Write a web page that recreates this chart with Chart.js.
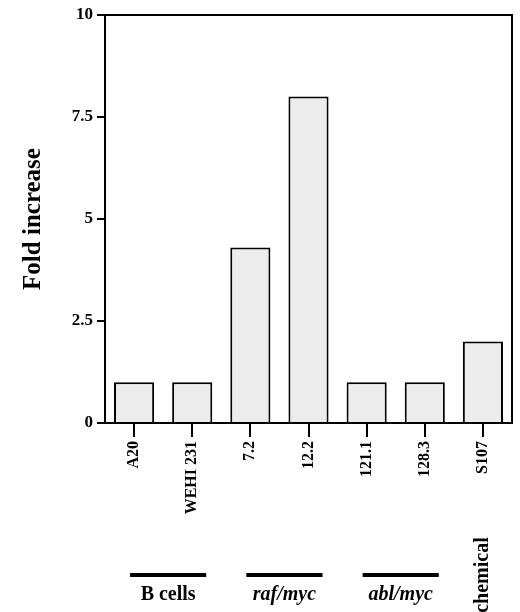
<!DOCTYPE html><html><head><script src="https://cdn.jsdelivr.net/npm/chart.js"></script>
<style>body{margin:0;background:#fff}#w{width:520px;height:612px}</style></head><body><div id="w"><canvas id="c"></canvas></div>
<script>
const categories=["A20","WEHI 231","7.2","12.2","121.1","128.3","S107"];
const values=[1,1,4.3,8,1,1,2];
const yTicks=[0,2.5,5,7.5,10];
const groups=[{label:"B cells",from:0,to:1,italic:false},{label:"raf/myc",from:2,to:3,italic:true},{label:"abl/myc",from:4,to:5,italic:true}];
const F="'Liberation Serif', serif";
const groupPlugin={id:'g',afterDraw(ch){
 const c=ch.ctx,x=ch.scales.x,b=ch.chartArea.bottom;
 c.save();c.fillStyle='#000';c.strokeStyle='#000';c.lineWidth=4;
 groups.forEach(g=>{const x1=x.getPixelForValue(g.from)-4,x2=x.getPixelForValue(g.to)+14;
  c.beginPath();c.moveTo(x1,b+152);c.lineTo(x2,b+152);c.stroke();
  c.font=(g.italic?'italic ':'')+'bold 20px '+F;c.textAlign='center';c.textBaseline='alphabetic';
  c.fillText(g.label,(x1+x2)/2,b+177);});
 c.translate(x.getPixelForValue(6),b+132);c.rotate(-Math.PI/2);c.font='bold 20px '+F;c.textAlign='center';c.textBaseline='middle';
 c.fillText('chemical',-20,0);c.restore();}};
new Chart(document.getElementById('c'),{type:'bar',
 data:{labels:categories,datasets:[{data:values,backgroundColor:'#ececec',borderColor:'#000',borderWidth:2,categoryPercentage:1,barPercentage:0.69}]},
 options:{responsive:true,maintainAspectRatio:false,animation:false,
 layout:{padding:{left:15,right:8,top:15,bottom:0}},
 plugins:{legend:{display:false},tooltip:{enabled:false}},
 scales:{
  x:{afterFit(s){s.height=189;},border:{color:'#000',width:2},grid:{display:true,drawOnChartArea:false,color:'#000',lineWidth:2,tickLength:14,offset:false},
   ticks:{color:'#000',font:{family:F,weight:'bold',size:16},maxRotation:90,minRotation:90,padding:4}},
  y:{min:0,max:10,afterFit(s){s.width=90;},afterBuildTicks(s){s.ticks=yTicks.map(v=>({value:v}));},
   border:{color:'#000',width:2},grid:{drawOnChartArea:false,color:'#000',lineWidth:2,tickLength:8},
   ticks:{color:'#000',font:{family:F,weight:'bold',size:17},padding:4},
   title:{display:true,text:'Fold increase',color:'#000',font:{family:F,weight:'bold',size:25},padding:{bottom:8}}}}},
 plugins:[groupPlugin,{id:'box',afterDraw(ch){const a=ch.chartArea,c=ch.ctx;c.save();c.strokeStyle='#000';c.lineWidth=2;c.strokeRect(a.left,a.top,a.right-a.left,a.bottom-a.top);c.restore();}}]});
</script></body></html>
